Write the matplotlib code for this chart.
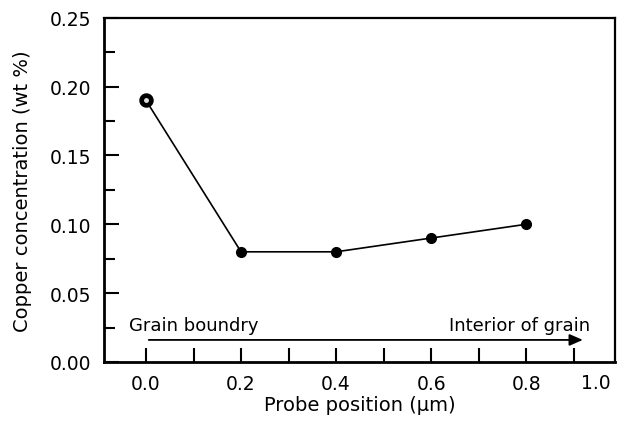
import matplotlib.pyplot as plt
from matplotlib.ticker import MultipleLocator

plt.rcParams['font.family'] = ['DejaVu Sans']

# probe position (um) and copper concentration (wt %)
position = [0.0, 0.2, 0.4, 0.6, 0.8]
copper = [0.19, 0.08, 0.08, 0.09, 0.10]

x_ticks = [0.0, 0.2, 0.4, 0.6, 0.8]
x_ticklabels = ["0.0", "0.2", "0.4", "0.6", "0.8"]
y_ticks = [0.00, 0.05, 0.10, 0.15, 0.20, 0.25]
y_ticklabels = ["0.00", "0.05", "0.10", "0.15", "0.20", "0.25"]

fig = plt.figure(figsize=(6.2, 4.27), dpi=100)
ax = fig.add_axes([0.168, 0.150, 0.824, 0.806])

ax.plot(position, copper, color="black", lw=1.2, zorder=2)
ax.plot(position[1:], copper[1:], "o", color="black", ms=7, zorder=3)
# first point: nearly filled, small light centre
ax.plot(position[:1], copper[:1], "o", mfc="#dddddd", mec="black", mew=3.4,
        ms=7, zorder=3)

ax.set_xlim(-0.088, 0.987)
ax.set_ylim(0.0, 0.25)
ax.set_xticks(x_ticks)
ax.set_xticklabels(x_ticklabels)
ax.set_yticks(y_ticks)
ax.set_yticklabels(y_ticklabels)
ax.xaxis.set_minor_locator(MultipleLocator(0.1))
ax.yaxis.set_minor_locator(MultipleLocator(0.025))
ax.tick_params(which="both", direction="in", width=1.5, labelsize=13.5,
               top=False, right=False)
ax.tick_params(axis="y", which="major", length=11, pad=9)
ax.tick_params(axis="y", which="minor", length=8)
ax.tick_params(axis="x", which="both", length=10, pad=9)

# the "1.0" label sits at the clipped right edge
ax.text(0.962, -0.059, "1.0", transform=ax.transAxes, ha="center",
        va="center", fontsize=13.5)

for side in ["left", "bottom"]:
    ax.spines[side].set_linewidth(2.0)
for side in ["top", "right"]:
    ax.spines[side].set_linewidth(1.6)

ax.set_xlabel("Probe position (\u03bcm)", fontsize=14, labelpad=1)
ax.set_ylabel("Copper concentration (wt %)", fontsize=14, labelpad=13)

ax.annotate("", xy=(0.925, 0.016), xytext=(0.0, 0.016),
            arrowprops=dict(arrowstyle="-|>,head_length=0.8,head_width=0.35",
                            color="black", lw=1.3))
ax.text(-0.036, 0.027, "Grain boundry", ha="left", va="center", fontsize=13)
ax.text(0.935, 0.027, "Interior of grain", ha="right", va="center",
        fontsize=13)

fig.savefig("out.png", dpi=100)
